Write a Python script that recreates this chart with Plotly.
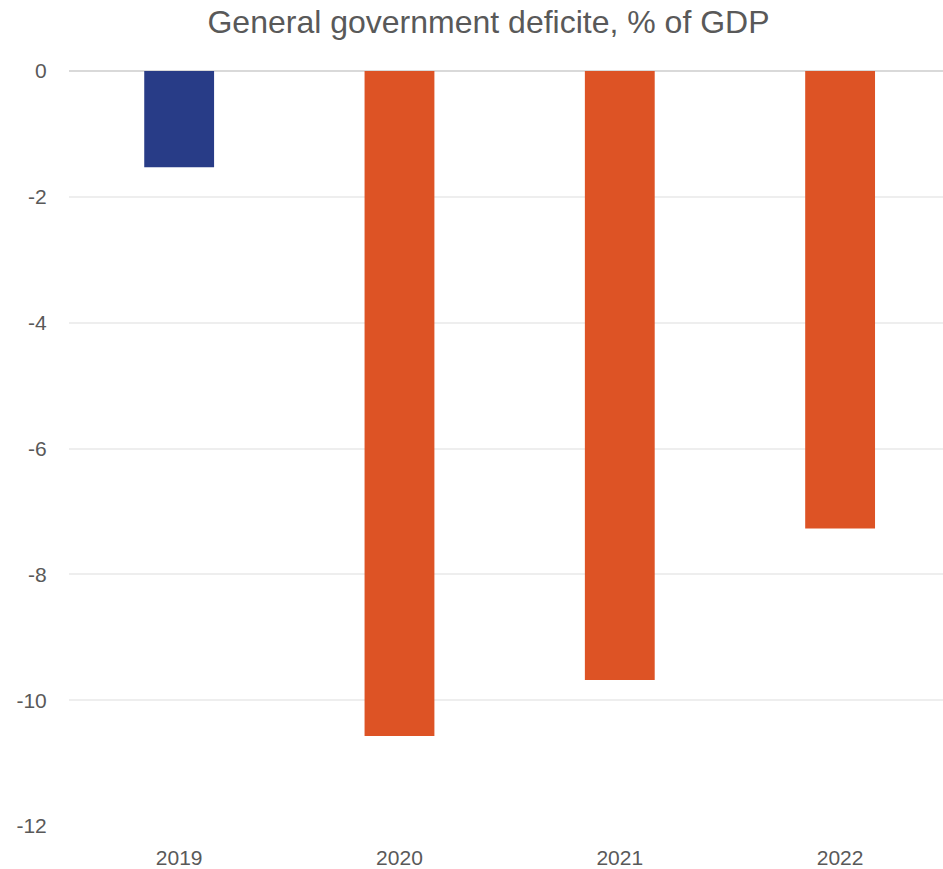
import plotly.graph_objects as go

# General government balance, % of GDP
years = ["2019", "2020", "2021", "2022"]
deficit = [-1.53, -10.57, -9.68, -7.27]
bar_colors = ["#283C87", "#DD5325", "#DD5325", "#DD5325"]
y_ticks = [0, -2, -4, -6, -8, -10, -12]

fig = go.Figure(
    go.Bar(
        x=years,
        y=deficit,
        marker=dict(color=bar_colors, line=dict(width=0)),
        width=0.317,
        hoverinfo="x+y",
    )
)

fig.update_layout(
    width=943,
    height=869,
    margin=dict(l=69, r=0, t=71, b=43, autoexpand=False),
    paper_bgcolor="white",
    plot_bgcolor="white",
    showlegend=False,
    font=dict(family="Liberation Sans, Arial, sans-serif", color="#595959"),
    title=dict(
        text="General government deficite, % of GDP",
        font=dict(size=32, color="#595959"),
        x=488.5 / 943,
        xanchor="center",
        xref="container",
        y=1 - 22 / 869,
        yref="container",
        yanchor="middle",
    ),
    xaxis=dict(
        type="category",
        range=[-0.5, 3.467],
        showgrid=False,
        showline=False,
        ticks="outside",
        ticklen=13,
        tickcolor="white",
        tickfont=dict(size=21, color="#595959"),
        automargin=False,
    ),
    yaxis=dict(
        range=[-12, 0],
        tickvals=y_ticks,
        ticktext=[str(v) for v in y_ticks],
        showgrid=True,
        gridcolor="#eeeeee",
        gridwidth=1.5,
        zeroline=True,
        zerolinecolor="#d9d9d9",
        zerolinewidth=2,
        showline=False,
        ticks="outside",
        ticklen=17,
        tickcolor="white",
        tickfont=dict(size=21, color="#595959"),
        automargin=False,
    ),
    bargap=0.68,
)

fig.write_html("out.html")
